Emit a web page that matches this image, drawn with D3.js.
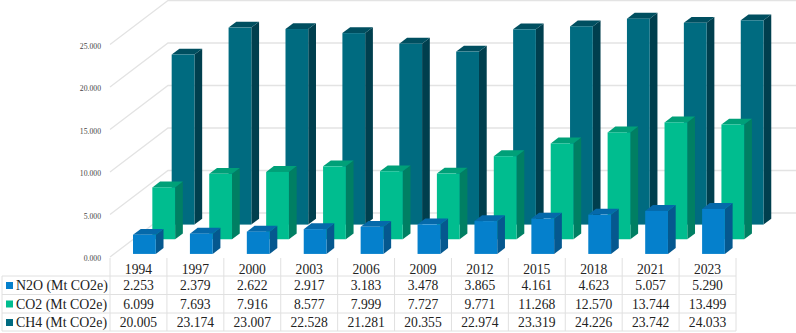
<!DOCTYPE html>
<html>
<head>
<meta charset="utf-8">
<script src="https://cdn.jsdelivr.net/npm/d3@7"></script>
<style>
  body { margin: 0; background: #fff; }
  svg { display: block; font-family: "Liberation Serif", serif; }
</style>
</head>
<body>
<script>
const years = ['1994','1997','2000','2003','2006','2009','2012','2015','2018','2021','2023'];
const seriesNames = ['N2O (Mt CO2e)','CO2 (Mt CO2e)','CH4 (Mt CO2e)'];
const n2o = [2.253,2.379,2.622,2.917,3.183,3.478,3.865,4.161,4.623,5.057,5.290];
const co2 = [6.099,7.693,7.916,8.577,7.999,7.727,9.771,11.268,12.570,13.744,13.499];
const ch4 = [20.005,23.174,23.007,22.528,21.281,20.355,22.974,23.319,24.226,23.742,24.033];
const yTicks = [0,5,10,15,20,25];

const seriesValues = [n2o,co2,ch4];
const faceColor = ['#0580cc','#00bd8f','#006b80'];
const topColor = ['#0569aa','#00a078','#004f60'];
const sideColor = ['#05588f','#007f63','#003f4e'];

const width = 796, height = 333;
const plotLeft = 110, plotRight = 736;
const depthX = 58, depthY = 44;

const svg = d3.select('body').append('svg')
  .attr('width', width)
  .attr('height', height);

const xScale = d3.scaleBand()
  .domain(years)
  .range([plotLeft, plotRight])
  .paddingInner(0.6)
  .paddingOuter(0.3)
  .align(0.555);

const yScale = d3.scaleLinear()
  .domain([0, 25])
  .range([257, 44.5]);

// fraction of the floor depth taken by each series row
const zScale = d3.scaleBand()
  .domain(seriesNames)
  .range([0, 1])
  .paddingInner(0.6)
  .paddingOuter(0.3)
  .align(0.35);

const fmt = d3.format('.3f');

// walls: front edge up to the back wall, then across
const grid = svg.append('g')
  .attr('fill', 'none')
  .attr('stroke', '#e3e3e3')
  .attr('stroke-width', 1.3);

const gridLine = d => {
  const y = yScale(d);
  return d3.line()([[plotLeft, y], [plotLeft + depthX, y - depthY], [width, y - depthY]]);
};

grid.selectAll('path')
  .data(yTicks)
  .join('path')
    .attr('d', gridLine);

// y labels
const yAxis = d3.axisLeft(yScale)
  .tickValues(yTicks)
  .tickSize(0)
  .tickPadding(0)
  .tickFormat(fmt);

const yG = svg.append('g')
  .attr('transform', 'translate(101,1.5)')
  .call(yAxis);
yG.select('.domain').remove();
yG.selectAll('text')
  .attr('font-family', '"Liberation Serif", serif')
  .attr('font-size', 7.7)
  .attr('fill', '#444');

// bars, back row first so the front rows cover it
const rows = d3.range(seriesNames.length).reverse();

rows.forEach(s => {
  const name = seriesNames[s];
  const z0 = zScale(name);
  const z1 = z0 + zScale.bandwidth();

  const px = (year, z) => xScale(year) + z * depthX;
  const py = (v, z) => yScale(v) - z * depthY;

  const bars = years.map((year, i) => ({ year, v: seriesValues[s][i] }));
  const g = svg.append('g');
  const w = xScale.bandwidth();

  const poly = pts => d3.line()(pts) + 'Z';

  const bar = g.selectAll('g')
    .data(bars)
    .join('g');

  bar.append('path')
    .attr('fill', sideColor[s])
    .attr('d', d => poly([
      [px(d.year, z0) + w, py(0, z0)],
      [px(d.year, z1) + w, py(0, z1)],
      [px(d.year, z1) + w, py(d.v, z1)],
      [px(d.year, z0) + w, py(d.v, z0)]
    ]));

  bar.append('path')
    .attr('fill', topColor[s])
    .attr('d', d => poly([
      [px(d.year, z0), py(d.v, z0)],
      [px(d.year, z1), py(d.v, z1)],
      [px(d.year, z1) + w, py(d.v, z1)],
      [px(d.year, z0) + w, py(d.v, z0)]
    ]));

  bar.append('rect')
    .attr('fill', faceColor[s])
    .attr('x', d => px(d.year, z0))
    .attr('y', d => py(d.v, z0))
    .attr('width', w)
    .attr('height', d => py(0, z0) - py(d.v, z0));
});

// data table under the plot
const rowLines = [276, 294.5, 313, 331];
const rowText = [285.5, 304, 322.5];
const tableLeft = 2;
const tableTop = 258;
const step = xScale.step();

const table = svg.append('g')
  .attr('stroke', '#e0e0e0')
  .attr('stroke-width', 1);

table.selectAll('line.h')
  .data(rowLines)
  .join('line')
    .attr('class', 'h')
    .attr('x1', tableLeft)
    .attr('x2', plotRight)
    .attr('y1', d => d)
    .attr('y2', d => d);

table.selectAll('line.v')
  .data(d3.range(years.length + 1))
  .join('line')
    .attr('class', 'v')
    .attr('x1', d => plotLeft + d * step)
    .attr('x2', d => plotLeft + d * step)
    .attr('y1', tableTop)
    .attr('y2', rowLines[3]);

table.append('line')
  .attr('x1', tableLeft)
  .attr('x2', tableLeft)
  .attr('y1', rowLines[0])
  .attr('y2', rowLines[3]);

const colCenter = i => plotLeft + (i + 0.5) * step;
const tableFont = 13.6;

svg.append('g')
    .attr('font-size', tableFont)
    .attr('fill', '#222')
    .attr('text-anchor', 'middle')
  .selectAll('text')
  .data(years)
  .join('text')
    .attr('x', (d, i) => colCenter(i))
    .attr('y', 273.5)
    .text(d => d);

seriesNames.forEach((name, s) => {
  svg.append('rect')
    .attr('x', 6)
    .attr('y', rowText[s] - 3.5)
    .attr('width', 7)
    .attr('height', 7)
    .attr('fill', faceColor[s]);

  svg.append('text')
    .attr('x', 16)
    .attr('y', rowText[s] + 4.5)
    .attr('font-size', 13.9)
    .attr('fill', '#222')
    .text(name);

  svg.append('g')
      .attr('font-size', tableFont)
      .attr('fill', '#222')
      .attr('text-anchor', 'middle')
    .selectAll('text')
    .data(seriesValues[s])
    .join('text')
      .attr('x', (d, i) => colCenter(i))
      .attr('y', rowText[s] + 4.5)
      .text(d => fmt(d));
});
</script>
</body>
</html>
